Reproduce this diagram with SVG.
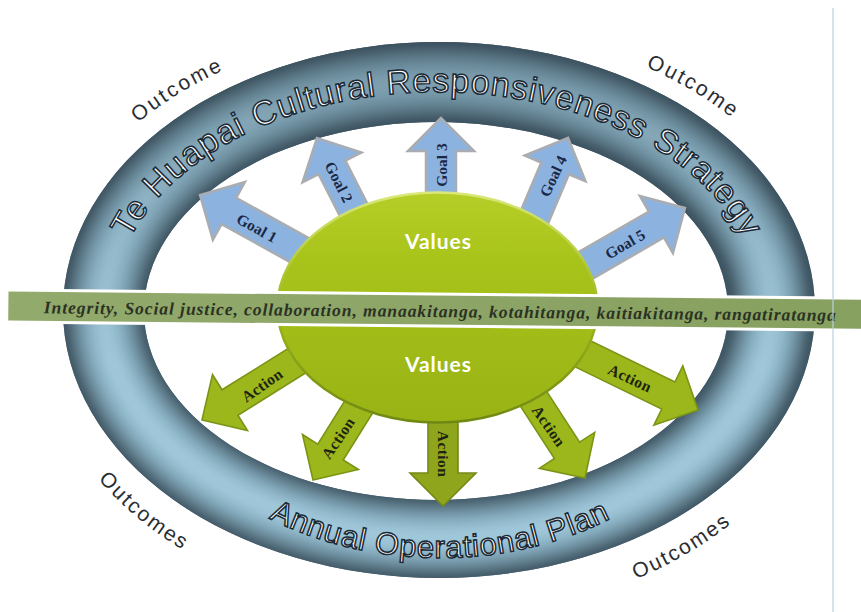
<svg xmlns="http://www.w3.org/2000/svg" width="861" height="612" viewBox="0 0 861 612">
  <defs>
    <style>
      .ring-label { font-family: "Liberation Sans", Arial, sans-serif; fill: #ffffff; stroke: #1a2a36; stroke-width: 1.5px; }
      .outcome { font-family: "Liberation Sans", Arial, sans-serif; font-size: 21px; fill: #2a2d31; }
      .goal { fill: #8cb3e0; stroke: #a9adb1; stroke-width: 2.5px; }
      .action { fill: #9bb71b; stroke: #7a9416; stroke-width: 1.6px; }
      .action-down { fill: #8ea51c; stroke: #74891a; stroke-width: 1.6px; }
      .arrow-label { font-family: "Liberation Serif", "Times New Roman", serif; font-weight: bold; font-size: 15.5px; text-anchor: middle; dominant-baseline: central; }
      .goal-label { fill: #1b2845; }
      .action-label { fill: #1d2410; letter-spacing: 0.4px; }
      .values-label { font-family: Lato, "Open Sans", sans-serif; font-weight: bold; font-size: 21px; fill: #ffffff; text-anchor: middle; }
      .band-text { font-family: "Liberation Serif", "Times New Roman", serif; font-style: italic; font-weight: bold; font-size: 17.5px; fill: #2b3224; }
    </style>

    <!-- block arrow, tip at origin, pointing along +x -->
    <path id="blockArrow" d="M0,0 L-33,-33 L-33,-15 L-140,-15 L-140,15 L-33,15 L-33,33 Z"/>

    <clipPath id="ringClip">
      <path clip-rule="evenodd" d="M63,310 a376,268 0 1,0 752,0 a376,268 0 1,0 -752,0 Z M144,311 a292,189 0 1,0 584,0 a292,189 0 1,0 -584,0 Z"/>
    </clipPath>
    <filter id="soft" x="-10%" y="-10%" width="120%" height="120%">
      <feGaussianBlur stdDeviation="4"/>
    </filter>
    <linearGradient id="ringShade" x1="0" y1="40" x2="0" y2="580" gradientUnits="userSpaceOnUse">
      <stop offset="0" stop-color="#2c3e4a" stop-opacity="0.35"/>
      <stop offset="0.35" stop-color="#2c3e4a" stop-opacity="0.12"/>
      <stop offset="0.6" stop-color="#2c3e4a" stop-opacity="0"/>
      <stop offset="1" stop-color="#2c3e4a" stop-opacity="0"/>
    </linearGradient>
    <linearGradient id="valuesFill" x1="0" y1="0" x2="0" y2="1">
      <stop offset="0" stop-color="#b6cf28"/>
      <stop offset="0.3" stop-color="#a8c31a"/>
      <stop offset="1" stop-color="#99b315"/>
    </linearGradient>
    <linearGradient id="valuesRim" x1="0" y1="0" x2="0" y2="1">
      <stop offset="0" stop-color="#dbe77a"/>
      <stop offset="0.5" stop-color="#9db81c"/>
      <stop offset="1" stop-color="#6f8812"/>
    </linearGradient>
    <linearGradient id="bandFill" x1="0" y1="0" x2="1" y2="0">
      <stop offset="0" stop-color="#93aa6d"/>
      <stop offset="1" stop-color="#86a05f"/>
    </linearGradient>

    <!-- text paths -->
    <path id="topArc" d="M112,310 A325,218 0 0 1 762,310"/>
    <path id="bottomArc" d="M125,310 A315,248 0 0 0 755,310"/>
    <path id="outTopLeft" d="M112,146.5 A398,285 0 0 1 257.3,56.1"/>
    <path id="outTopRight" d="M612.5,53.8 A398,285 0 0 1 760,142.5"/>
    <path id="outBottomLeft" d="M75.4,449.8 A407,308 0 0 0 216.3,568.3"/>
    <path id="outBottomRight" d="M597,593.5 A407,308 0 0 0 763,495.4"/>
  </defs>

  <rect width="861" height="612" fill="#ffffff"/>

  <!-- tube-shaded ring -->
  <g id="ring">
    <g clip-path="url(#ringClip)">
      <rect x="40" y="30" width="800" height="570" fill="#3e5563"/>
      <g filter="url(#soft)" fill="none">
        <ellipse cx="438" cy="310" rx="334" ry="228.5" stroke="#3e5563" stroke-width="86"/>
        <ellipse cx="438" cy="310" rx="334" ry="228.5" stroke="#56717f" stroke-width="72"/>
        <ellipse cx="438" cy="310" rx="334" ry="228.5" stroke="#6d8e9e" stroke-width="60"/>
        <ellipse cx="438" cy="310" rx="334" ry="228.5" stroke="#82a8ba" stroke-width="46"/>
        <ellipse cx="438" cy="310" rx="334" ry="228.5" stroke="#93bbcd" stroke-width="32"/>
        <ellipse cx="438" cy="310" rx="334" ry="228.5" stroke="#a0c8da" stroke-width="16"/>
      </g>
      <rect x="40" y="30" width="800" height="570" fill="url(#ringShade)"/>
    </g>
  </g>

  <!-- goal arrows (behind the values ellipse) -->
  <g id="goals">
    <g id="goal-1">
      <use href="#blockArrow" class="goal" transform="translate(200,195) rotate(-151)"/>
      <text class="arrow-label goal-label" transform="translate(257,228) rotate(29)">Goal 1</text>
    </g>
    <g id="goal-2">
      <use href="#blockArrow" class="goal" transform="translate(317,138) rotate(-117)"/>
      <text class="arrow-label goal-label" transform="translate(339,182) rotate(63)">Goal 2</text>
    </g>
    <g id="goal-3">
      <use href="#blockArrow" class="goal" transform="translate(441,118) rotate(-90)"/>
      <text class="arrow-label goal-label" transform="translate(441,165) rotate(-90)">Goal 3</text>
    </g>
    <g id="goal-4">
      <use href="#blockArrow" class="goal" transform="translate(568,138) rotate(-67)"/>
      <text class="arrow-label goal-label" transform="translate(553,176) rotate(-65)">Goal 4</text>
    </g>
    <g id="goal-5">
      <use href="#blockArrow" class="goal" transform="translate(685,208) rotate(-30)"/>
      <text class="arrow-label goal-label" transform="translate(625,244) rotate(-30)">Goal 5</text>
    </g>
  </g>

  <!-- action arrows -->
  <g id="actions">
    <g id="action-1">
      <use href="#blockArrow" class="action" transform="translate(202,420) rotate(148)"/>
      <text class="arrow-label action-label" transform="translate(262,385) rotate(-35)">Action</text>
    </g>
    <g id="action-2">
      <use href="#blockArrow" class="action" transform="translate(313,480) rotate(122)"/>
      <text class="arrow-label action-label" transform="translate(338,438) rotate(-56)">Action</text>
    </g>
    <g id="action-3">
      <use href="#blockArrow" class="action-down" transform="translate(443,506) rotate(90)"/>
      <text class="arrow-label action-label" transform="translate(443,454) rotate(90)">Action</text>
    </g>
    <g id="action-4">
      <use href="#blockArrow" class="action" transform="translate(585,478) rotate(57)"/>
      <text class="arrow-label action-label" transform="translate(549,426) rotate(55)">Action</text>
    </g>
    <g id="action-5">
      <use href="#blockArrow" class="action" transform="translate(698,410) rotate(26)"/>
      <text class="arrow-label action-label" transform="translate(630,378) rotate(25)">Action</text>
    </g>
  </g>

  <!-- central values ellipse -->
  <g id="values">
    <ellipse cx="437.5" cy="307.5" rx="160" ry="115" fill="url(#valuesFill)" stroke="url(#valuesRim)" stroke-width="2.5"/>
    <text class="values-label" x="438" y="249" textLength="66">Values</text>
    <text class="values-label" x="438" y="372" textLength="66">Values</text>
  </g>

  <!-- values band -->
  <g id="values-band" transform="rotate(0.55 7 290)">
    <rect x="7" y="290" width="880" height="32" fill="url(#bandFill)" stroke="#ffffff" stroke-width="3"/>
    <text class="band-text" x="44" y="313" textLength="792" lengthAdjust="spacing">Integrity, Social justice, collaboration, manaakitanga, kotahitanga, kaitiakitanga, rangatiratanga</text>
  </g>

  <!-- ring captions -->
  <g id="ring-labels">
    <text class="ring-label" font-size="34" letter-spacing="0.9" text-anchor="middle"><textPath href="#topArc" startOffset="50%">Te Huapai Cultural Responsiveness Strategy</textPath></text>
    <text class="ring-label" font-size="31" letter-spacing="0.8" text-anchor="middle"><textPath href="#bottomArc" startOffset="50%">Annual Operational Plan</textPath></text>
  </g>

  <!-- outcome labels around the ring -->
  <g id="outcomes">
    <text class="outcome" letter-spacing="2.4" text-anchor="middle"><textPath href="#outTopLeft" startOffset="50%">Outcome</textPath></text>
    <text class="outcome" letter-spacing="2.4" text-anchor="middle"><textPath href="#outTopRight" startOffset="50%">Outcome</textPath></text>
    <text class="outcome" letter-spacing="2" text-anchor="middle"><textPath href="#outBottomLeft" startOffset="50%">Outcomes</textPath></text>
    <text class="outcome" letter-spacing="2" text-anchor="middle"><textPath href="#outBottomRight" startOffset="50%">Outcomes</textPath></text>
  </g>

  <!-- page edge rule -->
  <line id="page-edge" x1="833" y1="8" x2="833" y2="612" stroke="#b7d3df" stroke-width="1.2"/>
</svg>
